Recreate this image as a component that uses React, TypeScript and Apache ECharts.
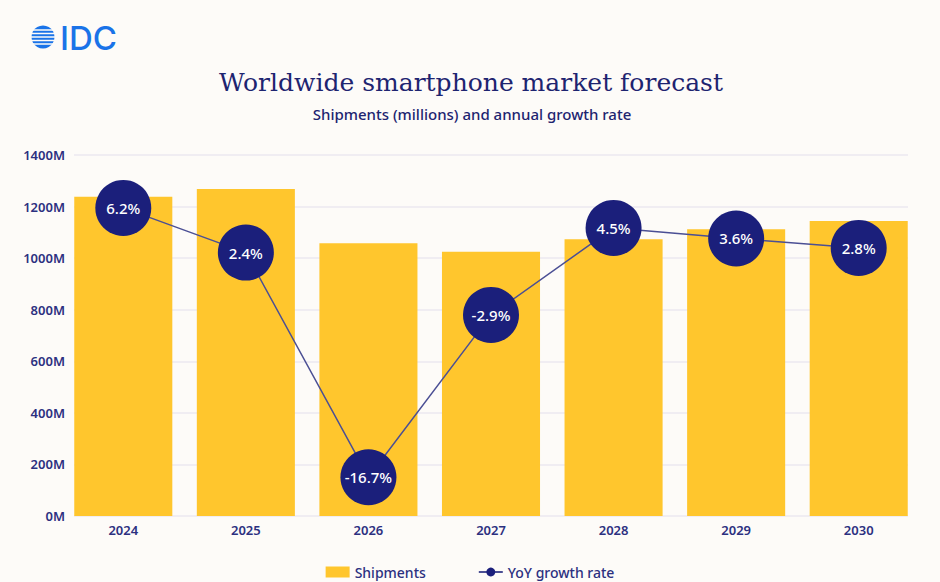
import * as echarts from "echarts";
import { FC, useEffect, useRef } from "react";

const years = ["2024", "2025", "2026", "2027", "2028", "2029", "2030"];
const shipments = [1238, 1268, 1058, 1025, 1073, 1112, 1144];
const growth = [6.2, 2.4, -16.7, -2.9, 4.5, 3.6, 2.8];
const shipmentTicks = { min: 0, max: 1400, interval: 200 };

const NAVY = "#1b1f7b";
const TEXT = "#2c3080";
const YELLOW = "#ffc62d";
const FONT = "'Noto Sans', sans-serif";

const getOptions = (): echarts.EChartsOption => {
  // white stripes over the globe of the logo
  const stripes = [-7, -3.5, 0, 3.5, 7].map((dy) => ({
    type: "rect" as const,
    shape: { x: 30, y: 37 + dy - 0.75, width: 26, height: 1.5 },
    style: { fill: "#fdfbf8" },
  }));

  return {
    animation: false,
    backgroundColor: "#fdfbf8",
    textStyle: { fontFamily: FONT },
    grid: [
      { left: 62, right: 20, top: 155, bottom: 66 },
      { left: 74, right: 32, top: 155, bottom: 66 },
    ],
    legend: {
      left: "center",
      top: 560,
      itemGap: 52,
      itemWidth: 24,
      itemHeight: 11,
      textStyle: { color: TEXT, fontSize: 14, fontWeight: 500, fontFamily: FONT },
      data: [
        { name: "Shipments", icon: "rect" },
        { name: "YoY growth rate" },
      ],
    },
    xAxis: [
      {
        type: "category",
        gridIndex: 0,
        data: years,
        axisLine: { show: false },
        axisTick: { show: false },
        axisLabel: {
          color: TEXT,
          fontSize: 13,
          fontWeight: 600,
          margin: 7,
          fontFamily: FONT,
        },
      },
      { type: "value", gridIndex: 1, show: false },
    ],
    yAxis: [
      { type: "value", gridIndex: 0, show: false, ...shipmentTicks },
      { type: "value", gridIndex: 0, show: false, min: -20, max: 10.7 },
      {
        type: "value",
        gridIndex: 1,
        ...shipmentTicks,
        axisLine: { show: false },
        axisTick: { show: false },
        axisLabel: {
          color: TEXT,
          fontSize: 13,
          fontWeight: 600,
          margin: 9,
          fontFamily: FONT,
          formatter: (v: number) => `${v}M`,
        },
        splitLine: { lineStyle: { color: "#ebe8f0", width: 1.5 } },
      },
    ],
    series: [
      {
        name: "Shipments",
        type: "bar",
        xAxisIndex: 0,
        yAxisIndex: 0,
        barCategoryGap: "20%",
        itemStyle: { color: YELLOW },
        data: shipments,
      },
      {
        name: "YoY growth rate",
        type: "line",
        xAxisIndex: 0,
        yAxisIndex: 1,
        z: 5,
        symbol: "circle",
        symbolSize: 56,
        itemStyle: { color: NAVY },
        lineStyle: { color: "#4b4f94", width: 1.5 },
        label: {
          show: true,
          position: "inside",
          color: "#ffffff",
          fontSize: 15,
          fontWeight: 500,
          fontFamily: FONT,
          formatter: "{c}%",
        },
        data: growth,
      },
    ],
    graphic: [
      {
        type: "circle",
        shape: { cx: 43, cy: 37, r: 11.5 },
        style: { fill: "#1a73e8" },
      },
      ...stripes,
      {
        type: "text",
        x: 60,
        y: 38,
        style: {
          text: "IDC",
          fill: "#1a73e8",
          fontSize: 33,
          fontWeight: 500,
          fontFamily: "Inter, sans-serif",
          textVerticalAlign: "middle",
        },
      },
      {
        type: "text",
        x: 471,
        y: 82,
        style: {
          text: "Worldwide smartphone market forecast",
          fill: "#1e2470",
          fontSize: 25,
          fontFamily: "'DejaVu Serif', serif",
          textAlign: "center",
          textVerticalAlign: "middle",
        },
      },
      {
        type: "text",
        x: 472,
        y: 114,
        style: {
          text: "Shipments (millions) and annual growth rate",
          fill: "#1e2470",
          fontSize: 15,
          fontWeight: 500,
          fontFamily: FONT,
          textAlign: "center",
          textVerticalAlign: "middle",
        },
      },
    ],
  };
};

const App: FC = () => {
  const chartRef = useRef<HTMLDivElement | null>(null);

  useEffect(() => {
    if (!chartRef.current) return;
    const myChart = echarts.init(chartRef.current, undefined, { renderer: "svg" });
    myChart.setOption(getOptions());
    return () => {
      myChart.dispose();
    };
  }, []);

  return (
    <div
      ref={chartRef}
      style={{ position: "absolute", left: 0, top: 0, width: 940, height: 582 }}
    />
  );
};

export default App;
